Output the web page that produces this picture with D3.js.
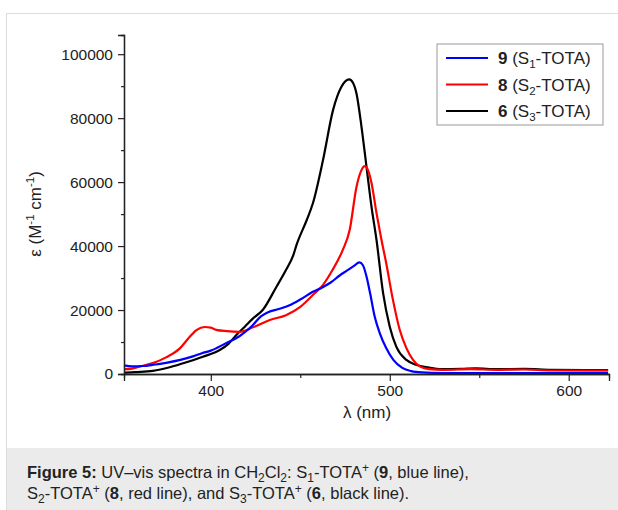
<!DOCTYPE html>
<html>
<head>
<meta charset="utf-8">
<script src="https://cdn.jsdelivr.net/npm/d3@7"></script>
<style>
  body { margin: 0; background: #fff; }
  svg { display: block; font-family: "Liberation Sans", Arial, sans-serif; }
</style>
</head>
<body>
<div id="demo"></div>
<script>
// series 9 (S1-TOTA), blue
let wl9 = [351.5, 356, 362, 368, 375, 383, 390, 395, 400, 408, 416, 423, 428, 432, 438, 444, 450, 457, 462, 467, 472, 476, 480, 483, 485, 487, 489, 491.6, 494.4, 498, 502, 507, 512, 518, 530, 560, 600, 622];
let eps9 = [2700, 2400, 2500, 2900, 3500, 4400, 5500, 6500, 7300, 9500, 11800, 15000, 18000, 19300, 20300, 21500, 23300, 25700, 27000, 28600, 30800, 32300, 33800, 34900, 34000, 30500, 25300, 17900, 12800, 8100, 4400, 1900, 900, 500, 300, 250, 250, 250];

// series 8 (S2-TOTA), red
let wl8 = [351.5, 356, 360, 367.6, 375, 382.7, 388, 392, 396.6, 400, 403, 409, 416, 423.6, 433, 442, 450, 457, 462.6, 468, 473.7, 477.6, 481.4, 484, 486, 488, 489.8, 492.6, 495, 498, 501.8, 505.6, 509.3, 513, 517, 522, 530, 545, 560, 575, 590, 610, 622];
let eps8 = [1500, 1700, 2300, 3400, 5200, 8000, 11500, 13750, 14700, 14500, 13800, 13400, 13200, 14600, 16900, 18400, 21000, 24700, 27800, 32500, 38750, 45000, 58500, 63500, 65000, 63500, 59700, 50300, 43000, 34700, 23100, 13750, 8100, 4400, 2300, 1500, 1300, 1500, 1300, 1400, 1100, 1100, 1100];

// series 6 (S3-TOTA), black
let wl6 = [351.5, 358, 367.6, 377, 386.4, 395.5, 405, 410, 414.3, 419, 423.6, 429, 436.7, 442, 446, 448, 453.5, 457, 462.7, 468.3, 473, 477.3, 479.5, 481.4, 484.2, 487, 489.8, 492.6, 496.3, 500, 503.7, 509.3, 515, 522, 528, 540, 548, 560, 575, 590, 610, 622];
let eps6 = [400, 600, 1000, 2100, 3650, 5400, 7500, 9500, 12200, 14800, 17400, 20000, 27300, 32500, 37000, 40500, 48000, 53300, 66900, 82500, 89800, 92100, 91000, 87700, 77300, 64800, 52300, 41900, 25200, 14800, 8500, 4400, 2800, 2000, 1500, 1600, 1800, 1500, 1600, 1300, 1200, 1200];

let xTicks = [400, 500, 600];
let xMinor = [450, 550];
let yTicks = [0, 20000, 40000, 60000, 80000, 100000];
let yMinor = [10000, 30000, 50000, 70000, 90000];

let series = [
  {num: "9", sub: "1", color: "#0000ff", wl: wl9, eps: eps9},
  {num: "8", sub: "2", color: "#ff0000", wl: wl8, eps: eps8},
  {num: "6", sub: "3", color: "#000000", wl: wl6, eps: eps6}
];

let W = 618, H = 510;

let svg = d3.select("#demo")
  .append("svg")
  .attr("width", W)
  .attr("height", H);

// page frame and caption panel
svg.append("rect").attr("x", 6).attr("y", 448).attr("width", W - 6).attr("height", H - 448).attr("fill", "#ebebeb");
svg.append("line").attr("x1", 6).attr("x2", W).attr("y1", 13.5).attr("y2", 13.5).attr("stroke", "#dcdcdc");
svg.append("line").attr("x1", 6.5).attr("x2", 6.5).attr("y1", 13).attr("y2", H).attr("stroke", "#dcdcdc");

let x = d3.scaleLinear().domain([351.5, 622.5]).range([124, 609]);
let y = d3.scaleLinear().domain([0, 106000]).range([374, 35]);

let g = svg.append("g");

// curves
let line = d3.line()
  .x(d => x(d[0]))
  .y(d => y(d[1]))
  .curve(d3.curveMonotoneX);

g.selectAll("path.curve")
  .data(series.slice().reverse())
  .enter()
  .append("path")
  .attr("class", "curve")
  .attr("fill", "none")
  .attr("stroke", d => d.color)
  .attr("stroke-width", 2.2)
  .attr("stroke-linejoin", "round")
  .attr("d", d => line(d.wl.map((w, i) => [w, d.eps[i]])));

// axes
g.append("g")
  .attr("transform", "translate(0,374)")
  .call(d3.axisBottom(x).tickValues(xTicks).tickSize(7).tickPadding(4));
g.append("g")
  .attr("transform", "translate(0,374)")
  .call(d3.axisBottom(x).tickValues(xMinor).tickSize(4).tickFormat(""));

g.append("g")
  .attr("transform", "translate(124,0)")
  .call(d3.axisLeft(y).tickValues(yTicks).tickSize(6).tickPadding(5).tickFormat(d3.format("d")));
g.append("g")
  .attr("transform", "translate(124,0)")
  .call(d3.axisLeft(y).tickValues(yMinor).tickSize(3).tickFormat(""));

g.selectAll(".domain").attr("stroke", "#222").attr("stroke-width", 1.3);
g.selectAll(".tick line").attr("stroke", "#222").attr("stroke-width", 1.2);
g.selectAll(".tick text").attr("font-size", "15.5px").attr("fill", "#222")
  .attr("font-family", "Liberation Sans, Arial, sans-serif");

// axis titles
svg.append("text")
  .attr("x", 367)
  .attr("y", 418)
  .attr("text-anchor", "middle")
  .attr("font-size", "17px")
  .attr("fill", "#222")
  .text("λ (nm)");

let yl = svg.append("text")
  .attr("transform", "translate(41,214) rotate(-90)")
  .attr("text-anchor", "middle")
  .attr("font-size", "17px")
  .attr("fill", "#222");
yl.append("tspan").text("ε (M");
yl.append("tspan").attr("font-size", "11.5px").attr("dy", -7).text("-1");
yl.append("tspan").attr("dy", 7).text(" cm");
yl.append("tspan").attr("font-size", "11.5px").attr("dy", -7).text("-1");
yl.append("tspan").attr("dy", 7).text(")");

// legend
let legend = svg.append("g").attr("transform", "translate(437,44)");
legend.append("rect")
  .attr("width", 166)
  .attr("height", 81)
  .attr("fill", "#fff")
  .attr("stroke", "#999");

let items = legend.selectAll("g.item")
  .data(series)
  .enter()
  .append("g")
  .attr("class", "item")
  .attr("transform", (d, i) => "translate(0," + (14 + i * 26.5) + ")");

items.append("line")
  .attr("x1", 9).attr("x2", 51)
  .attr("stroke", d => d.color)
  .attr("stroke-width", 2.2);

let lt = items.append("text")
  .attr("x", 61)
  .attr("y", 6)
  .attr("font-size", "17px")
  .attr("fill", "#222");
lt.append("tspan").attr("font-weight", "bold").text(d => d.num);
lt.append("tspan").text(" (S");
lt.append("tspan").attr("font-size", "11.5px").attr("dy", 4).text(d => d.sub);
lt.append("tspan").attr("dy", -4).text("-TOTA)");

// caption
let cap = svg.append("g").attr("font-size", "16.5px").attr("fill", "#222");
let c1 = cap.append("text").attr("x", 27).attr("y", 478);
c1.append("tspan").attr("font-weight", "bold").text("Figure 5:");
c1.append("tspan").text(" UV–vis spectra in CH");
c1.append("tspan").attr("font-size", "12px").attr("dy", 4).text("2");
c1.append("tspan").attr("dy", -4).text("Cl");
c1.append("tspan").attr("font-size", "12px").attr("dy", 4).text("2");
c1.append("tspan").attr("dy", -4).text(": S");
c1.append("tspan").attr("font-size", "12px").attr("dy", 4).text("1");
c1.append("tspan").attr("dy", -4).text("-TOTA");
c1.append("tspan").attr("font-size", "12px").attr("dy", -6).text("+");
c1.append("tspan").attr("dy", 6).text(" (");
c1.append("tspan").attr("font-weight", "bold").text("9");
c1.append("tspan").text(", blue line),");

let c2 = cap.append("text").attr("x", 27).attr("y", 499);
c2.append("tspan").text("S");
c2.append("tspan").attr("font-size", "12px").attr("dy", 4).text("2");
c2.append("tspan").attr("dy", -4).text("-TOTA");
c2.append("tspan").attr("font-size", "12px").attr("dy", -6).text("+");
c2.append("tspan").attr("dy", 6).text(" (");
c2.append("tspan").attr("font-weight", "bold").text("8");
c2.append("tspan").text(", red line), and S");
c2.append("tspan").attr("font-size", "12px").attr("dy", 4).text("3");
c2.append("tspan").attr("dy", -4).text("-TOTA");
c2.append("tspan").attr("font-size", "12px").attr("dy", -6).text("+");
c2.append("tspan").attr("dy", 6).text(" (");
c2.append("tspan").attr("font-weight", "bold").text("6");
c2.append("tspan").text(", black line).");
</script>
</body>
</html>
